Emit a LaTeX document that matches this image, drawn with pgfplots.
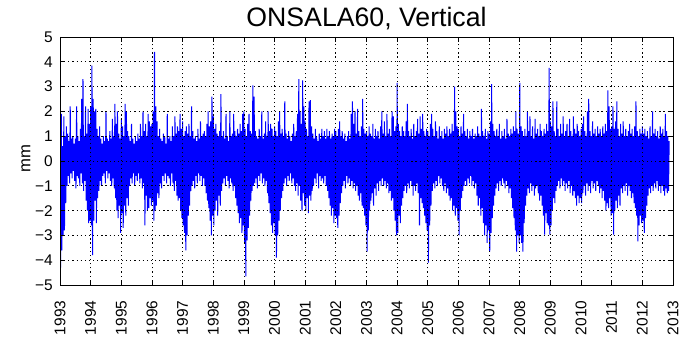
\documentclass[border=0pt]{standalone}
\usepackage{fontspec}
\setmainfont{Liberation Sans}
\usepackage{pgfplots}
\pgfplotsset{compat=1.18}
\usepackage{pgfplotstable}
% half-monthly (upper, lower) pairs of the vertical displacement, mm
\pgfplotstableread[row sep=\\,header=false]{
0.9\\-4.3\\1.9\\-3.6\\0.6\\-3.0\\1.8\\-2.8\\1.0\\-1.7\\1.4\\-1.0\\1.1\\-0.6\\0.8\\-0.9\\2.2\\-0.5\\0.9\\-0.7\\1.0\\-0.4\\0.7\\-0.8\\0.9\\-1.1\\2.2\\-0.6\\1.0\\-0.7\\0.8\\-1.0\\1.3\\-0.5\\2.5\\-0.9\\3.3\\-1.2\\1.0\\-0.8\\2.2\\-1.6\\1.1\\-2.0\\2.1\\-2.5\\1.5\\-2.4\\
2.2\\-2.6\\3.85\\-3.8\\2.5\\-2.4\\2.0\\-1.6\\2.1\\-2.5\\1.3\\-1.5\\1.0\\-1.2\\1.4\\-0.8\\0.9\\-1.0\\0.7\\-0.6\\1.0\\-0.5\\0.8\\-0.9\\2.0\\-0.4\\0.9\\-0.7\\0.8\\-0.5\\1.2\\-0.8\\0.9\\-1.0\\1.7\\-0.7\\1.0\\-1.1\\2.3\\-1.5\\1.5\\-2.0\\2.0\\-2.3\\1.1\\-1.8\\0.9\\-2.9\\
1.7\\-2.1\\1.4\\-2.7\\1.0\\-1.8\\2.3\\-2.2\\2.0\\-1.5\\1.2\\-1.8\\1.0\\-1.0\\0.8\\-0.7\\1.5\\-0.9\\0.9\\-0.5\\0.7\\-1.0\\1.0\\-0.6\\0.8\\-0.8\\1.1\\-0.5\\0.9\\-0.9\\1.5\\-0.7\\1.0\\-1.1\\2.0\\-0.9\\1.2\\-2.6\\1.5\\-1.4\\1.0\\-2.0\\1.9\\-1.9\\1.6\\-1.5\\1.4\\-1.8\\
1.5\\-1.6\\2.0\\-2.4\\4.4\\-2.0\\2.2\\-1.8\\1.6\\-1.3\\1.0\\-1.5\\1.3\\-0.9\\0.9\\-1.1\\0.8\\-0.6\\1.1\\-0.8\\1.0\\-0.5\\0.7\\-0.9\\1.9\\-0.6\\0.9\\-0.7\\1.0\\-1.0\\0.8\\-0.5\\1.4\\-0.9\\1.0\\-1.2\\1.8\\-0.8\\1.1\\-1.4\\1.4\\-1.6\\1.2\\-1.5\\1.9\\-2.0\\1.3\\-2.3\\
1.6\\-2.6\\1.0\\-2.9\\1.2\\-3.6\\1.4\\-3.0\\1.1\\-2.2\\1.5\\-1.8\\1.0\\-1.2\\2.2\\-1.0\\1.2\\-0.8\\0.9\\-1.1\\1.0\\-0.6\\0.8\\-0.9\\1.3\\-0.5\\0.9\\-0.8\\1.6\\-0.6\\1.0\\-1.0\\1.1\\-0.7\\1.2\\-1.0\\1.0\\-1.3\\1.5\\-1.6\\2.0\\-1.9\\1.4\\-2.4\\1.6\\-3.0\\2.6\\-2.2\\
1.8\\-2.6\\1.3\\-2.0\\1.5\\-1.6\\1.1\\-2.2\\1.0\\-1.4\\1.2\\-1.8\\2.7\\-1.2\\1.0\\-0.9\\1.2\\-0.7\\0.9\\-1.0\\1.9\\-0.6\\1.0\\-0.8\\0.8\\-1.1\\2.0\\-0.7\\1.0\\-0.9\\1.1\\-1.2\\1.9\\-1.0\\1.2\\-1.5\\1.0\\-1.8\\1.3\\-2.1\\1.1\\-2.5\\1.5\\-2.3\\1.2\\-2.9\\1.9\\-2.6\\
2.0\\-3.3\\1.3\\-4.65\\1.0\\-3.2\\1.5\\-2.7\\1.9\\-2.2\\1.2\\-1.6\\1.1\\-1.2\\3.05\\-1.0\\2.6\\-0.9\\1.2\\-0.7\\1.0\\-1.1\\0.9\\-0.6\\1.3\\-0.8\\1.0\\-0.5\\2.0\\-0.9\\0.9\\-0.7\\1.1\\-1.0\\1.6\\-0.8\\1.0\\-1.3\\2.0\\-1.7\\1.2\\-2.1\\1.5\\-2.6\\1.3\\-2.9\\1.0\\-2.5\\
1.4\\-3.0\\1.2\\-3.9\\1.0\\-3.0\\1.6\\-2.4\\2.0\\-2.0\\1.1\\-1.5\\1.3\\-1.2\\1.0\\-0.9\\2.4\\-0.7\\1.1\\-1.0\\0.9\\-0.6\\1.2\\-0.8\\1.0\\-0.5\\0.8\\-0.9\\1.1\\-0.7\\1.5\\-1.0\\1.0\\-1.2\\1.2\\-0.9\\1.9\\-1.4\\3.3\\-1.0\\2.0\\-1.6\\1.5\\-2.0\\3.25\\-1.3\\2.2\\-1.8\\
1.6\\-2.0\\1.3\\-1.5\\1.0\\-2.1\\2.4\\-1.4\\2.45\\-1.6\\1.4\\-1.2\\1.1\\-1.0\\0.9\\-0.7\\1.3\\-0.9\\1.0\\-0.5\\0.8\\-1.1\\1.1\\-0.6\\0.9\\-0.8\\1.3\\-0.7\\1.0\\-0.9\\1.2\\-0.6\\0.9\\-1.0\\1.3\\-1.2\\1.0\\-1.5\\1.2\\-1.8\\0.9\\-2.2\\1.1\\-1.9\\1.0\\-2.5\\1.3\\-2.2\\
1.2\\-2.3\\1.0\\-2.7\\1.3\\-2.2\\1.6\\-1.7\\1.0\\-1.3\\1.2\\-1.0\\0.9\\-0.8\\1.1\\-1.1\\0.8\\-0.6\\1.0\\-0.9\\1.2\\-0.7\\0.9\\-1.0\\1.9\\-0.8\\2.4\\-1.1\\1.5\\-0.9\\2.0\\-1.2\\1.1\\-1.0\\2.1\\-1.4\\1.2\\-1.6\\1.0\\-1.3\\1.4\\-1.8\\2.5\\-1.9\\1.3\\-2.2\\1.1\\-2.6\\
1.2\\-3.65\\1.0\\-2.8\\1.4\\-2.0\\1.1\\-1.6\\1.0\\-1.3\\1.5\\-1.8\\0.9\\-1.1\\1.3\\-1.4\\1.0\\-0.9\\1.2\\-1.2\\0.9\\-0.8\\1.4\\-1.0\\2.0\\-0.7\\1.1\\-1.0\\1.6\\-0.8\\1.0\\-1.1\\1.9\\-0.9\\1.1\\-1.3\\1.3\\-1.2\\1.0\\-1.6\\2.0\\-1.5\\1.8\\-2.0\\1.2\\-2.4\\1.4\\-3.0\\
3.15\\-2.9\\1.5\\-2.2\\1.2\\-2.5\\1.0\\-1.8\\1.4\\-1.5\\1.2\\-1.2\\1.0\\-1.0\\1.6\\-1.3\\2.3\\-0.9\\1.2\\-1.1\\1.0\\-0.8\\1.3\\-1.0\\0.9\\-1.4\\1.5\\-1.0\\1.0\\-1.2\\1.2\\-0.9\\1.7\\-1.3\\1.1\\-2.6\\1.8\\-1.5\\1.3\\-1.7\\1.9\\-1.9\\1.2\\-2.2\\1.0\\-2.5\\1.3\\-2.8\\
1.2\\-4.1\\1.0\\-2.6\\1.5\\-1.8\\1.9\\-1.2\\1.3\\-0.9\\1.0\\-1.1\\1.6\\-0.8\\1.2\\-1.0\\0.9\\-0.6\\1.4\\-0.9\\1.0\\-0.7\\1.2\\-1.0\\0.9\\-1.2\\1.3\\-0.9\\1.1\\-1.3\\1.4\\-1.1\\1.0\\-1.4\\1.3\\-1.6\\1.1\\-1.5\\1.5\\-2.0\\1.2\\-1.8\\3.0\\-2.2\\2.0\\-1.9\\1.4\\-2.4\\
1.3\\-3.0\\1.0\\-2.0\\1.4\\-1.5\\1.1\\-1.2\\1.9\\-1.0\\1.2\\-0.8\\1.0\\-1.0\\1.3\\-0.7\\0.9\\-0.9\\1.2\\-0.6\\1.0\\-1.0\\1.3\\-0.8\\0.9\\-1.1\\1.1\\-0.9\\1.0\\-1.4\\1.4\\-1.8\\1.1\\-1.5\\1.0\\-2.2\\2.1\\-1.9\\1.2\\-2.5\\1.0\\-3.0\\1.3\\-2.6\\0.9\\-3.3\\1.2\\-2.8\\
1.1\\-3.65\\1.6\\-2.9\\3.1\\-2.3\\1.5\\-1.8\\1.2\\-1.4\\1.0\\-1.1\\1.3\\-0.9\\1.0\\-1.2\\1.5\\-0.8\\0.9\\-1.0\\1.2\\-0.7\\1.0\\-0.9\\1.3\\-1.1\\0.9\\-0.8\\1.7\\-1.0\\1.1\\-1.3\\1.0\\-1.1\\1.3\\-1.5\\1.1\\-1.9\\1.4\\-2.3\\1.2\\-2.8\\2.0\\-3.65\\1.3\\-3.0\\1.1\\-3.3\\
3.15\\-3.0\\1.4\\-3.3\\1.2\\-3.65\\1.0\\-2.5\\1.3\\-1.8\\1.0\\-1.4\\2.0\\-1.1\\1.2\\-1.3\\1.8\\-0.9\\1.0\\-1.2\\1.4\\-1.0\\0.9\\-1.4\\1.7\\-1.1\\1.1\\-1.0\\1.3\\-1.3\\1.0\\-1.6\\1.5\\-1.4\\1.2\\-1.8\\1.0\\-2.2\\1.3\\-2.97\\1.1\\-2.1\\1.5\\-2.5\\1.2\\-2.6\\3.75\\-2.97\\
1.6\\-2.6\\1.4\\-2.0\\2.4\\-1.5\\1.2\\-1.7\\1.0\\-1.2\\2.4\\-1.0\\1.3\\-0.8\\1.0\\-1.1\\1.5\\-0.7\\1.1\\-1.0\\1.8\\-0.8\\1.0\\-1.2\\1.2\\-0.9\\1.5\\-1.1\\1.0\\-0.8\\1.7\\-1.3\\1.2\\-1.0\\1.0\\-1.4\\1.8\\-1.2\\1.3\\-1.5\\1.1\\-1.8\\1.5\\-1.4\\1.2\\-1.7\\1.0\\-1.5\\
1.3\\-1.7\\1.5\\-1.3\\1.8\\-1.0\\1.2\\-1.4\\1.0\\-0.9\\2.0\\-1.2\\2.5\\-1.0\\1.2\\-1.3\\1.0\\-0.8\\1.6\\-1.1\\1.1\\-0.9\\1.3\\-1.2\\1.0\\-0.8\\1.4\\-1.0\\1.1\\-1.3\\1.3\\-1.1\\1.0\\-1.5\\1.4\\-1.2\\1.1\\-1.6\\1.5\\-2.0\\1.2\\-1.7\\2.85\\-1.9\\2.2\\-1.5\\1.3\\-2.2\\
1.4\\-2.1\\2.2\\-2.97\\1.3\\-2.0\\1.6\\-1.6\\2.4\\-1.9\\1.3\\-1.4\\1.0\\-1.8\\1.5\\-1.1\\1.1\\-1.3\\1.6\\-1.0\\1.0\\-1.2\\1.3\\-0.9\\1.0\\-1.4\\1.2\\-1.0\\1.5\\-1.2\\1.1\\-1.5\\1.3\\-1.3\\1.0\\-1.7\\1.4\\-1.9\\2.4\\-2.2\\1.2\\-3.24\\1.0\\-2.6\\1.3\\-2.2\\1.1\\-2.5\\
1.4\\-2.4\\1.1\\-2.9\\1.3\\-2.3\\1.0\\-1.8\\1.2\\-1.4\\0.9\\-1.1\\1.4\\-1.3\\1.0\\-1.0\\2.0\\-1.2\\1.1\\-0.9\\1.3\\-1.1\\1.0\\-0.8\\1.2\\-1.2\\0.9\\-1.0\\1.4\\-1.3\\1.1\\-1.0\\1.3\\-1.2\\1.0\\-1.4\\1.9\\-1.1\\1.2\\-1.3\\1.0\\-1.2\\0.8\\
}\onsala
\begin{document}
\begin{tikzpicture}
\useasboundingbox (-45pt,-39pt) rectangle (465pt,213.75pt);
\begin{axis}[
  at={(0,0)}, anchor=south west,
  scale only axis, width=459.75pt, height=186pt,
  xmin=1993, xmax=2013, ymin=-5, ymax=5,
  xtick={1993,...,2013},
  xticklabels={1993,1994,1995,1996,1997,1998,1999,2000,2001,2002,2003,2004,2005,2006,2007,2008,2009,2010,2011,2012,2013},
  ytick={-5,-4,-3,-2,-1,0,1,2,3,4,5},
  yticklabels={−5,−4,−3,−2,−1,0,1,2,3,4,5},
  tick align=inside, major tick length=4pt,
  grid=major,
  major grid style={black, line width=0.55pt, dash pattern=on 0.9pt off 2.2pt},
  axis on top,
  axis line style={line width=0.6pt, black},
  tick style={black, line width=0.5pt},
  ticklabel style={font=\fontsize{11.6}{14}\selectfont},
  xticklabel style={rotate=90, anchor=east, inner sep=0pt},
  xticklabel shift=11.5pt,
  yticklabel style={anchor=east, inner sep=0pt},
  yticklabel shift=5.25pt,
  title={ONSALA60, Vertical},
  every axis title shift=0pt,
  title style={at={(axis description cs:0.5,1)}, anchor=base, yshift=7.5pt, inner sep=0pt, font=\fontsize{20}{24}\selectfont},
  ylabel={mm},
  ylabel style={at={(axis description cs:-0.0555,0.51)}, anchor=center, font=\fontsize{12.5}{14}\selectfont},
  /pgf/number format/assume math mode=true,
]
\addplot[blue, line width=0.75pt, mark=none] table[x expr=1993+\coordindex/48, y index=0] {\onsala};
\end{axis}
\end{tikzpicture}
\end{document}
